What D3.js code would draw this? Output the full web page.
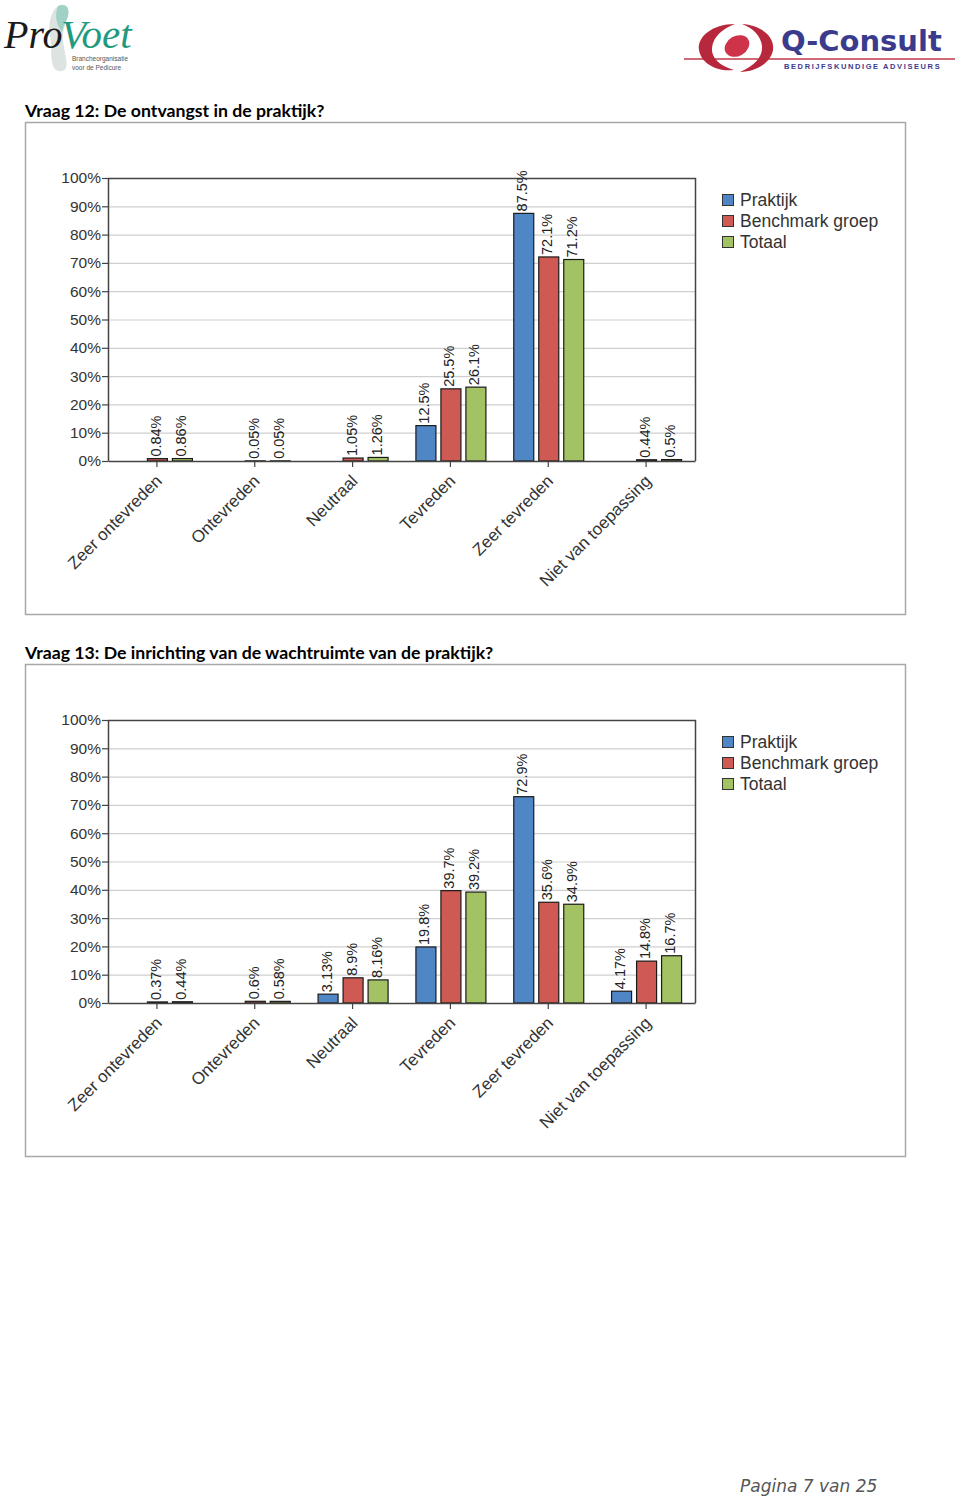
<!DOCTYPE html>
<html><head><meta charset="utf-8">
<script src="https://cdn.jsdelivr.net/npm/d3@7"></script>
<style>
body{margin:0;background:#fff;}
svg{display:block;}
</style></head>
<body>
<svg id="page" width="960" height="1499"></svg>
<script>
const categories = ["Zeer ontevreden","Ontevreden","Neutraal","Tevreden","Zeer tevreden","Niet van toepassing"];
const series = ["Praktijk","Benchmark groep","Totaal"];
const colors = ["#4f86c6","#cf5a53","#a3c263"];
const yTicks = [0,10,20,30,40,50,60,70,80,90,100];

// Vraag 12
const q12Title = "Vraag 12: De ontvangst in de praktijk?";
const q12Praktijk = [null, null, null, 12.5, 87.5, null];
const q12Benchmark = [0.84, 0.05, 1.05, 25.5, 72.1, 0.44];
const q12Totaal = [0.86, 0.05, 1.26, 26.1, 71.2, 0.5];
const q12Labels = [[null,null,null,"12.5%","87.5%",null],["0.84%","0.05%","1.05%","25.5%","72.1%","0.44%"],["0.86%","0.05%","1.26%","26.1%","71.2%","0.5%"]];

// Vraag 13
const q13Title = "Vraag 13: De inrichting van de wachtruimte van de praktijk?";
const q13Praktijk = [null, null, 3.13, 19.8, 72.9, 4.17];
const q13Benchmark = [0.37, 0.6, 8.9, 39.7, 35.6, 14.8];
const q13Totaal = [0.44, 0.58, 8.16, 39.2, 34.9, 16.7];
const q13Labels = [[null,null,"3.13%","19.8%","72.9%","4.17%"],["0.37%","0.6%","8.9%","39.7%","35.6%","14.8%"],["0.44%","0.58%","8.16%","39.2%","34.9%","16.7%"]];

const svg = d3.select("#page");
const AX = "Liberation Sans, Arial, sans-serif";

// ---------- Logos ----------
const lg = svg.append("g");
lg.append("path").attr("d","M58,6 C66,3 70,8 68,16 C66,24 62,30 63,40 C64,52 68,60 66,68 C63,73 55,72 53,66 C50,56 52,46 50,36 C48,26 50,12 58,6 Z")
  .attr("fill","#dde3e0");
lg.append("path").attr("d","M58,6 C66,3 70,8 68,16 C66,22 63,26 62,32 C57,26 54,16 58,6 Z").attr("fill","#9fd2c4");
lg.append("text").attr("x",4).attr("y",48).attr("font-family","Liberation Serif, serif").attr("font-style","italic")
  .attr("font-size",40).attr("fill","#1a1a1a").text("Pro");
lg.append("text").attr("x",61).attr("y",48).attr("font-family","Liberation Serif, serif").attr("font-style","italic")
  .attr("font-size",41).attr("fill","#1f9a7f").text("Voet");
lg.append("text").attr("x",72).attr("y",61).attr("font-family",AX).attr("font-size",6.5).attr("fill","#555").text("Brancheorganisatie");
lg.append("text").attr("x",72).attr("y",70).attr("font-family",AX).attr("font-size",6.5).attr("fill","#555").text("voor de Pedicure");

// Q-Consult
const qg = svg.append("g");
qg.append("line").attr("x1",684).attr("x2",955).attr("y1",59).attr("y2",59).attr("stroke","#c0394a").attr("stroke-width",1.5);
qg.append("path").attr("d","M735,24 C712,24 697,37 699,50 C701,63 716,72 734,70 C720,66 711,58 712,48 C713,36 724,28 735,24 Z").attr("fill","#b8283c");
qg.append("path").attr("d","M742,24 C760,25 775,36 773,50 C771,62 757,72 740,72 C754,66 763,57 762,46 C761,36 753,28 742,24 Z").attr("fill","#b8283c");
qg.append("ellipse").attr("cx",737).attr("cy",46).attr("rx",13).attr("ry",10).attr("transform","rotate(-30 737 46)").attr("fill","#cf3349");
qg.append("text").attr("x",781).attr("y",51).attr("font-family","DejaVu Sans, sans-serif").attr("font-weight","bold")
  .attr("font-size",29).attr("fill","#3a3b8c").text("Q-Consult");
qg.append("text").attr("x",784).attr("y",69).attr("font-family",AX).attr("font-weight","bold")
  .attr("font-size",7.5).attr("letter-spacing",1.6).attr("fill","#3a3b8c").text("BEDRIJFSKUNDIGE ADVISEURS");

// ---------- Chart builder ----------
function chart(offY, title, vals, labels){
  const g = svg.append("g").attr("transform",`translate(0,${offY})`);
  g.append("text").attr("x",25).attr("y",117).attr("font-family","Lato, Carlito, sans-serif").attr("font-weight","bold")
    .attr("font-size",17.7).attr("fill","#000").text(title);
  g.append("rect").attr("x",25.5).attr("y",122.5).attr("width",880).attr("height",492)
    .attr("fill","#fff").attr("stroke","#a8a8a8").attr("stroke-width",1.5);

  const left=108, right=695, top=178, bottom=461;
  const x0 = d3.scaleBand().domain(categories).range([left,right]);
  const x1 = d3.scaleBand().domain(series).range([x0.bandwidth()/2-35, x0.bandwidth()/2+35]).paddingInner(0.2).paddingOuter(0);
  const y = d3.scaleLinear().domain([0,100]).range([bottom,top]);

  g.append("g").selectAll("line").data(yTicks.filter(t=>t>0 && t<100)).join("line")
    .attr("x1",left).attr("x2",right).attr("y1",d=>y(d)+0.5).attr("y2",d=>y(d)+0.5)
    .attr("stroke","#cfcfcf").attr("stroke-width",1.2);
  g.append("path").attr("d",`M${left},${top+0.5}H${right+0.5}V${bottom}`).attr("fill","none").attr("stroke","#444").attr("stroke-width",1.5);

  series.forEach((s,si)=>{
    const data = categories.map((c,ci)=>({c, v: vals[si][ci], lab: labels[si][ci]})).filter(d=>d.v!==null);
    g.append("g").selectAll("rect").data(data).join("rect")
      .attr("x",d=>x0(d.c)+x1(s)+0.5).attr("y",d=>y(d.v))
      .attr("width",x1.bandwidth()).attr("height",d=>Math.max(0.5,bottom-y(d.v)))
      .attr("fill",colors[si]).attr("stroke","#1a1a1a").attr("stroke-width",1.2);
    g.append("g").selectAll("text").data(data).join("text")
      .attr("transform",d=>`translate(${x0(d.c)+x1(s)+14},${y(d.v)-2}) rotate(-90)`)
      .attr("font-family",AX).attr("font-size",14.5).attr("fill","#222").text(d=>d.lab);
  });

  const ya = g.append("g").attr("transform",`translate(${left},0)`)
    .call(d3.axisLeft(y).tickValues(yTicks).tickFormat(d=>d+"%").tickSize(6).tickSizeOuter(0));
  ya.select(".domain").attr("stroke","#444").attr("stroke-width",1.5);
  ya.selectAll(".tick line").attr("stroke","#444").attr("stroke-width",1.2);
  ya.selectAll(".tick text").attr("font-family",AX).attr("font-size",15.5).attr("fill","#333").attr("x",-7);

  const xa = g.append("g").attr("transform",`translate(0,${bottom})`)
    .call(d3.axisBottom(x0).tickSize(6).tickSizeOuter(0));
  xa.select(".domain").attr("stroke","#444").attr("stroke-width",1.5);
  xa.selectAll(".tick line").attr("stroke","#444").attr("stroke-width",1.2);
  xa.selectAll(".tick text").attr("font-family",AX).attr("font-size",17).attr("fill","#333")
    .attr("text-anchor","end").attr("dy",0).attr("y",0)
    .attr("transform","translate(6,21) rotate(-45)");

  const lgd = g.append("g").attr("transform","translate(722,193)");
  series.forEach((s,i)=>{
    lgd.append("rect").attr("x",0.5).attr("y",i*21+1.5).attr("width",11).attr("height",11)
      .attr("fill",colors[i]).attr("stroke","#333").attr("stroke-width",1);
    lgd.append("text").attr("x",18).attr("y",i*21+13).attr("font-family",AX).attr("font-size",17.5).attr("fill","#333").text(s);
  });
}

chart(0, q12Title, [q12Praktijk,q12Benchmark,q12Totaal], q12Labels);
chart(542, q13Title, [q13Praktijk,q13Benchmark,q13Totaal], q13Labels);

svg.append("text").attr("x",740).attr("y",1492).attr("font-family","DejaVu Sans, sans-serif").attr("font-style","italic")
  .attr("font-size",17).attr("fill","#555").text("Pagina 7 van 25");
</script>
</body></html>
